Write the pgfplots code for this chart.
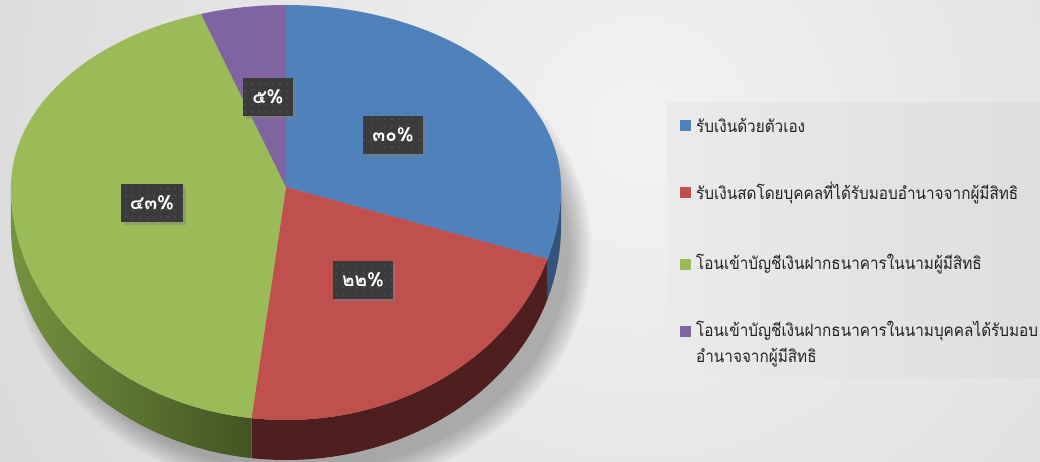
\documentclass[border=0pt]{standalone}
\usepackage{pgfplots}
\pgfplotsset{compat=1.18}
\usepackage{pgfplotstable}
\usepackage{fontspec}
\usetikzlibrary{shadows,patterns.meta}
\newfontfamily\thaifont[Script=Thai]{Loma}
\newfontfamily\thainarrow[Script=Thai, FakeStretch=0.9]{Loma}
\definecolor{pieblue}{HTML}{4F81BD}
\definecolor{piered}{HTML}{C0504D}
\definecolor{piegreen}{HTML}{9BBB59}
\definecolor{piepurple}{HTML}{8064A2}
\definecolor{sideblue}{HTML}{34547D}
\definecolor{sidered}{HTML}{4F1E1E}
\definecolor{sidegreenA}{HTML}{74933F}
\definecolor{sidegreenB}{HTML}{425423}
\definecolor{labelbg}{HTML}{3B3B3B}
\definecolor{legtext}{HTML}{222222}

% shares in percent, clockwise from 12 o'clock
\pgfplotstableread{
part share
1 30
2 22
3 43
4 5
}\piedata

% top face of all slices with y radius #1 (x radius 275bp)
\newcommand\pieslices[1]{%
  \fill[pieblue]   (0,0) -- (\aA:275bp and #1) arc[start angle=\aA, end angle=\aB, x radius=275bp, y radius=#1] -- cycle;
  \fill[piered]    (0,0) -- (\aB:275bp and #1) arc[start angle=\aB, end angle=\aC, x radius=275bp, y radius=#1] -- cycle;
  \fill[piegreen]  (0,0) -- (\aC:275bp and #1) arc[start angle=\aC, end angle=\aD, x radius=275bp, y radius=#1] -- cycle;
  \fill[piepurple] (0,0) -- (\aD:275bp and #1) arc[start angle=\aD, end angle=\aE, x radius=275bp, y radius=#1] -- cycle;
}
% front wall between angles #1 and #2 (lower half only)
\newcommand\pieside[3]{%
  \path[#3] (#1:275bp and 233bp) arc[start angle=#1, end angle=#2, x radius=275bp, y radius=233bp]
    -- ++(0,-40bp) arc[start angle=#2, end angle=#1, x radius=275bp, y radius=233bp] -- cycle;
}

\begin{document}
\begin{tikzpicture}[
    lbl/.style={fill=labelbg, text=white, font=\thaifont\bfseries\fontsize{19bp}{22bp}\selectfont,
      minimum height=38bp, inner xsep=9bp,
      drop shadow={shadow xshift=3bp, shadow yshift=-3bp, opacity=0.45},
      postaction={pattern={Dots[distance=7bp, radius=0.7bp]}, pattern color=white!30!labelbg}},
    leg/.style={anchor=base west, text=legtext, inner sep=0pt, font=\thainarrow\fontsize{17bp}{26bp}\selectfont}
  ]
  \pgfplotstablegetelem{0}{share}\of\piedata \def\aA{90}
  \pgfmathsetmacro\aB{\aA-3.6*\pgfplotsretval}
  \pgfplotstablegetelem{1}{share}\of\piedata
  \pgfmathsetmacro\aC{\aB-3.6*\pgfplotsretval}
  \pgfplotstablegetelem{2}{share}\of\piedata
  \pgfmathsetmacro\aD{\aC-3.6*\pgfplotsretval}
  \pgfplotstablegetelem{3}{share}\of\piedata
  \pgfmathsetmacro\aE{\aD-3.6*\pgfplotsretval}
  % visible front wall limits
  \pgfmathsetmacro\sA{min(\aA,0)}  \pgfmathsetmacro\eA{max(\aB,-180)}
  \pgfmathsetmacro\sB{min(\aB,0)}  \pgfmathsetmacro\eB{max(\aC,-180)}
  \pgfmathsetmacro\sC{min(\aC,0)}  \pgfmathsetmacro\eC{max(\aD,-180)}

  % background
  \begin{scope}
    \clip (0,0) rectangle (1040bp,462bp);
    \shade[inner color=black!5, outer color=black!22] (640bp,330bp) circle (1300bp);
    \shade[left color=black!8, right color=black!13] (667bp,84bp) rectangle (1040bp,359bp);
    \foreach \k in {0,3,...,21}
      \fill[black, opacity=0.035] (302bp,212bp) ellipse [x radius=268bp+\k bp, y radius=222bp+\k bp];
  \end{scope}

  \begin{axis}[
      scale only axis, width=1040bp, height=462bp,
      xmin=0, xmax=1040, ymin=0, ymax=462,
      hide axis, clip=false
    ]
    \begin{scope}[shift={(axis cs:286,275)}]
      \pieside{\sA}{\eA}{fill=sideblue}
      \pieside{\sB}{\eB}{fill=sidered}
      \pieside{\sC}{\eC}{left color=sidegreenA, right color=sidegreenB}
      \begin{scope}
        \clip (-300bp,-0.5bp) rectangle (300bp,300bp);
        \pieslices{182bp}
      \end{scope}
      \begin{scope}
        \clip (-300bp,-300bp) rectangle (300bp,0bp);
        \pieslices{233bp}
      \end{scope}
    \end{scope}

    % data labels
    \node[lbl] at (axis cs:393,327) {๓๐\%};
    \node[lbl] at (axis cs:363,182) {๒๒\%};
    \node[lbl] at (axis cs:152,259) {๔๓\%};
    \node[lbl] at (axis cs:268,365) {๕\%};

    % legend
    \fill[pieblue]   (axis cs:679.5,330.5) rectangle (axis cs:690.5,341.5);
    \fill[piered]    (axis cs:679.5,263.5) rectangle (axis cs:690.5,274.5);
    \fill[piegreen]  (axis cs:679.5,191.5) rectangle (axis cs:690.5,202.5);
    \fill[piepurple] (axis cs:679.5,124.5) rectangle (axis cs:690.5,135.5);
    \node[leg] at (axis cs:696,329) {รับเงินด้วยตัวเอง};
    \node[leg] at (axis cs:696,262) {รับเงินสดโดยบุคคลที่ได้รับมอบอำนาจจากผู้มีสิทธิ};
    \node[leg] at (axis cs:696,192) {โอนเข้าบัญชีเงินฝากธนาคารในนามผู้มีสิทธิ};
    \node[leg] at (axis cs:696,125) {โอนเข้าบัญชีเงินฝากธนาคารในนามบุคคลได้รับมอบ};
    \node[leg] at (axis cs:696,99) {อำนาจจากผู้มีสิทธิ};
  \end{axis}
  \pgfresetboundingbox
  \path[use as bounding box] (0,0) rectangle (1040bp,462bp);
\end{tikzpicture}
\end{document}
